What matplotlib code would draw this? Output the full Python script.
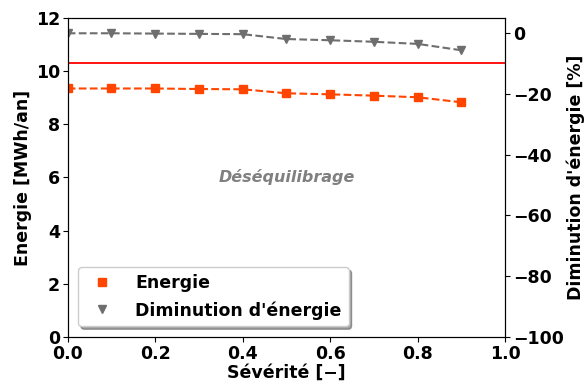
import matplotlib.pyplot as plt
from matplotlib.lines import Line2D

# Data
severite = [0.0, 0.1, 0.2, 0.3, 0.4, 0.5, 0.6, 0.7, 0.8, 0.9]
energie = [9.35, 9.35, 9.35, 9.33, 9.32, 9.17, 9.13, 9.08, 9.02, 8.83]
diminution = [0.0, 0.0, -0.1, -0.2, -0.3, -1.9, -2.3, -2.8, -3.5, -5.6]
energie_ref = 10.31

plt.rcParams['font.family'] = ['DejaVu Sans']
plt.rcParams['font.weight'] = 'bold'
plt.rcParams['axes.labelweight'] = 'bold'

fig = plt.figure(figsize=(5.84, 3.85), dpi=100)
ax = fig.add_axes([0.116, 0.125, 0.749, 0.828])
ax2 = ax.twinx()

ax.axhline(energie_ref, color='red', lw=1.3)
ax.plot(severite, energie, ls='--', color='#FF4500', marker='s', ms=6)
ax2.plot(severite, diminution, ls='--', color='#6E6E6E', marker='v', ms=6)

ax.text(0.5, 6, 'Déséquilibrage', color='gray', fontsize=11.5, fontweight='bold',
        style='italic', ha='center', va='center')

ax.set_xlim(0, 1)
ax.set_ylim(0, 12)
ax2.set_ylim(-100, 5)
ax.set_xlabel('Sévérité [\u2212]', fontsize=12.5, labelpad=1)
ax.set_ylabel('Energie [MWh/an]', fontsize=12.5, labelpad=3)
ax2.set_ylabel("Diminution d'énergie [%]", fontsize=12.5, labelpad=2)
ax.tick_params(labelsize=12.5, pad=2)
ax2.tick_params(labelsize=12.5, pad=2)

handles = [Line2D([], [], ls='none', marker='s', color='#FF4500', ms=6),
           Line2D([], [], ls='none', marker='v', color='#6E6E6E', ms=6)]
ax.legend(handles, ['Energie', "Diminution d'énergie"], loc='lower left',
          fontsize=12.5, shadow=True, borderaxespad=0.6, handletextpad=0.9)

fig.savefig('out.png', dpi=100)
